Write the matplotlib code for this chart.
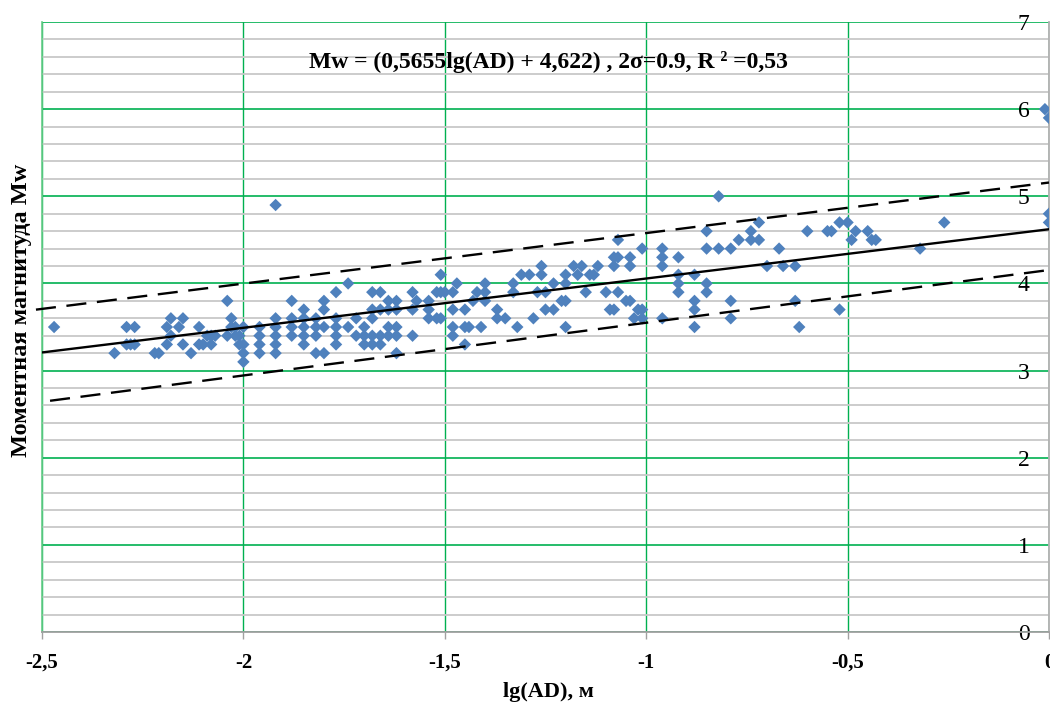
import matplotlib
matplotlib.use("Agg")
import matplotlib.pyplot as plt
import numpy as np

plt.rcParams['font.family'] = ['Liberation Serif', 'DejaVu Serif']

# ---- data ----
lg_ad = [
    -2.47, -2.32, -2.29, -2.27, -2.29, -2.28, -2.27, -2.22, -2.21, -2.19,
    -2.19, -2.18, -2.18, -2.16, -2.15, -2.15, -2.13, -2.11, -2.11, -2.10,
    -2.09, -2.08, -2.07, -2.08, -2.04, -2.03, -2.03, -2.02, -2.04, -2.02,
    -2.01, -2.01, -2.00, -2.00, -2.00, -2.00,
    -1.96, -1.96, -1.96, -1.96,
    -1.92, -1.92, -1.92, -1.92, -1.92, -1.92,
    -1.88, -1.88, -1.88, -1.88,
    -1.85, -1.85, -1.85, -1.85, -1.85,
    -1.82, -1.82, -1.82, -1.82,
    -1.80, -1.80, -1.80, -1.80,
    -1.77, -1.77, -1.77, -1.77, -1.77,
    -1.74, -1.74, -1.72, -1.72,
    -1.70, -1.70, -1.70,
    -1.68, -1.68, -1.68, -1.68, -1.68,
    -1.66, -1.66, -1.66, -1.66,
    -1.64, -1.64, -1.64, -1.64,
    -1.62, -1.62, -1.62, -1.62, -1.62,
    -1.58, -1.58, -1.58, -1.57,
    -1.54, -1.54, -1.54, -1.52, -1.52,
    -1.51, -1.51, -1.51, -1.50,
    -1.48, -1.48, -1.48, -1.48, -1.47,
    -1.45, -1.45, -1.45, -1.44, -1.43, -1.42, -1.41,
    -1.40, -1.40, -1.40, -1.37, -1.37, -1.35, -1.33, -1.33, -1.32,
    -1.31, -1.29, -1.28, -1.27, -1.26, -1.26, -1.25, -1.25,
    -1.23, -1.23, -1.21, -1.20, -1.20, -1.20, -1.20,
    -1.18, -1.17, -1.16, -1.15, -1.14, -1.13, -1.12, -1.10,
    -1.09, -1.08, -1.08, -1.07, -1.08, -1.07, -1.07,
    -1.05, -1.04, -1.04, -1.04, -1.03, -1.02, -1.01, -1.01, -1.01,
    -0.96, -0.96, -0.96, -0.96,
    -0.92, -0.92, -0.92, -0.92,
    -0.88, -0.88, -0.88, -0.88,
    -0.85, -0.85, -0.85, -0.85,
    -0.82, -0.82, -0.79, -0.79, -0.79, -0.77,
    -0.74, -0.74, -0.72, -0.72, -0.70, -0.67, -0.66, -0.63, -0.63, -0.62,
    -0.60, -0.55, -0.54, -0.52, -0.50, -0.52, -0.49, -0.48, -0.45,
    -0.44, -0.43, -0.32, -0.26,
    -0.01, 0.00, 0.00, 0.00,
]
mw = [
    3.5, 3.2, 3.5, 3.5, 3.3, 3.3, 3.3, 3.2, 3.2, 3.3,
    3.5, 3.6, 3.4, 3.5, 3.6, 3.3, 3.2, 3.5, 3.3, 3.3,
    3.4, 3.4, 3.4, 3.3, 3.8, 3.6, 3.5, 3.5, 3.4, 3.4,
    3.4, 3.3, 3.3, 3.5, 3.2, 3.1,
    3.5, 3.4, 3.3, 3.2,
    3.6, 3.5, 3.4, 3.3, 3.2, 4.9,
    3.8, 3.6, 3.5, 3.4,
    3.7, 3.6, 3.5, 3.4, 3.3,
    3.6, 3.5, 3.4, 3.2,
    3.8, 3.7, 3.5, 3.2,
    3.9, 3.6, 3.5, 3.4, 3.3,
    4.0, 3.5, 3.6, 3.4,
    3.5, 3.4, 3.3,
    3.9, 3.7, 3.6, 3.4, 3.3,
    3.9, 3.7, 3.4, 3.3,
    3.8, 3.7, 3.5, 3.4,
    3.8, 3.7, 3.5, 3.4, 3.2,
    3.9, 3.7, 3.4, 3.8,
    3.8, 3.7, 3.6, 3.9, 3.6,
    4.1, 3.9, 3.6, 3.9,
    3.9, 3.7, 3.5, 3.4, 4.0,
    3.7, 3.5, 3.3, 3.5, 3.8, 3.9, 3.5,
    4.0, 3.9, 3.8, 3.7, 3.6, 3.6, 3.9, 4.0, 3.5,
    4.1, 4.1, 3.6, 3.9, 4.2, 4.1, 3.9, 3.7,
    4.0, 3.7, 3.8, 3.8, 4.0, 4.1, 3.5,
    4.2, 4.1, 4.2, 3.9, 4.1, 4.1, 4.2, 3.9,
    3.7, 3.7, 4.3, 4.3, 4.2, 4.5, 3.9,
    3.8, 3.8, 4.3, 4.2, 3.6, 3.7, 3.7, 4.4, 3.6,
    4.4, 4.3, 4.2, 3.6,
    4.3, 4.1, 4.0, 3.9,
    4.1, 3.8, 3.7, 3.5,
    4.6, 4.4, 4.0, 3.9,
    4.4, 5.0, 4.4, 3.8, 3.6, 4.5,
    4.6, 4.5, 4.7, 4.5, 4.2, 4.4, 4.2, 4.2, 3.8, 3.5,
    4.6, 4.6, 4.6, 4.7, 4.7, 3.7, 4.5, 4.6, 4.6,
    4.5, 4.5, 4.4, 4.7,
    6.0, 5.9, 4.8, 4.7,
]

fit_slope, fit_intercept = 0.5655, 4.622          # Mw = 0.5655 lg(AD) + 4.622
upper_slope, upper_intercept = 0.58, 5.158         # upper dashed bound
lower_slope, lower_intercept = 0.605, 4.154        # lower dashed bound
fit_x = [-2.5, 0.0]
upper_x = [-2.515, 0.0]
lower_x = [-2.48, 0.0]

x_ticks = [-2.5, -2.0, -1.5, -1.0, -0.5, 0.0]
x_tick_labels = ['-2,5', '-2', '-1,5', '-1', '-0,5', '0']
y_ticks = [0, 1, 2, 3, 4, 5, 6, 7]

# ---- figure ----
fig = plt.figure(figsize=(10.5, 7.06), dpi=100)
ax = fig.add_axes([0.04, 0.1048, 0.959, 0.864])
ax.set_xlim(-2.5, 0.0)
ax.set_ylim(0, 7)

green = '#00B050'
ax.set_yticks(y_ticks)
ax.set_yticks(np.arange(0, 7.01, 0.2), minor=True)
ax.set_xticks(x_ticks)
ax.set_xticklabels(x_tick_labels, fontweight='bold', fontsize=15)

ax.grid(False)
ax.yaxis.grid(True, which='minor', color='#C8C8C8', linewidth=1.3)
ax.yaxis.grid(True, which='major', color=green, linewidth=1.2)
ax.xaxis.grid(True, which='major', color=green, linewidth=1.0)
ax.set_axisbelow(True)

ax.spines['top'].set_visible(False)
ax.spines['left'].set_color('#66CC88')
ax.spines['left'].set_linewidth(1.2)
ax.spines['bottom'].set_color('#A0A0A0')
ax.spines['bottom'].set_linewidth(1.3)
ax.spines['right'].set_color('#B0B0B0')
ax.spines['right'].set_linewidth(1.3)

ax.yaxis.tick_right()
ax.tick_params(axis='y', which='minor', length=0)
ax.tick_params(axis='y', which='major', length=4, width=1, color='#A0A0A0',
               direction='out', pad=-18, labelsize=17)
for t in ax.get_yticklabels():
    t.set_horizontalalignment('right')
ax.tick_params(axis='x', which='major', length=5, width=1, color='#A0A0A0',
               direction='out', pad=10)

# scatter
ax.scatter(lg_ad, mw, marker='D', s=40, color='#4F81BD', edgecolors='none', zorder=3)

# regression line and bounds
fx = np.array(fit_x)
ax.plot(fx, fit_slope * fx + fit_intercept, color='black', lw=1.7, zorder=4)
ux = np.array(upper_x)
ax.plot(ux, upper_slope * ux + upper_intercept, color='black', lw=1.7,
        dashes=(8.5, 4.5), zorder=4, clip_on=False)
lx = np.array(lower_x)
ax.plot(lx, lower_slope * lx + lower_intercept, color='black', lw=1.7,
        dashes=(8.5, 4.5), zorder=4)

ax.text(0.5025, 0.934, 'Mw = (0,5655lg(AD) + 4,622) , 2σ=0.9, R ² =0,53',
        transform=ax.transAxes, ha='center', va='center',
        fontsize=17, fontweight='bold')

ax.set_xlabel('lg(AD), м', fontsize=16, fontweight='bold')
ax.xaxis.set_label_coords(0.5025, -0.082)
ax.yaxis.set_label_position('left')
ax.set_ylabel('Моментная магнитуда Mw', fontsize=17.5, fontweight='bold')
ax.yaxis.set_label_coords(-0.0095, 0.528)

fig.savefig('out.png', dpi=100)
